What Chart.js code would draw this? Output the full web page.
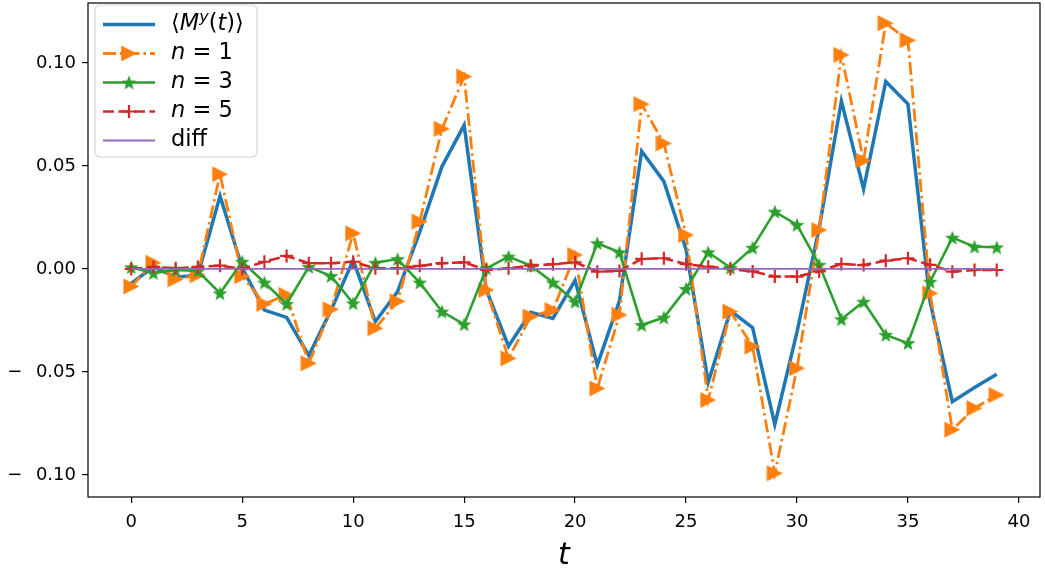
<!DOCTYPE html>
<html>
<head>
<meta charset="utf-8">
<script src="https://cdn.jsdelivr.net/npm/chart.js@4.4.0/dist/chart.umd.min.js"></script>
<style>
  html, body { margin: 0; padding: 0; background: #fff; }
  #wrap { width: 1045px; height: 579px; }
</style>
</head>
<body>
<div id="wrap"><canvas id="chart" width="1045" height="579"></canvas></div>
<script>
// time steps
const tValues = [0, 1, 2, 3, 4, 5, 6, 7, 8, 9, 10, 11, 12, 13, 14, 15, 16, 17, 18, 19,
  20, 21, 22, 23, 24, 25, 26, 27, 28, 29, 30, 31, 32, 33, 34, 35, 36, 37, 38, 39];

// <M^y(t)>
const myValues = [-0.007, 0.001, -0.004, -0.003, 0.0354, 0.0005, -0.020, -0.0235, -0.042, -0.020,
  0.0042, -0.0256, -0.011, 0.018, 0.0497, 0.0698, -0.0102, -0.0375, -0.021, -0.024,
  -0.0055, -0.0467, -0.0155, 0.0572, 0.0425, 0.0095, -0.055, -0.0203, -0.0285, -0.0755,
  -0.0305, 0.0198, 0.0815, 0.0388, 0.091, 0.080, -0.016, -0.0644, -0.0575, -0.0511];

// n = 1
const n1Values = [-0.0085, 0.003, -0.005, -0.003, 0.046, -0.0035, -0.017, -0.0126, -0.0458, -0.0196,
  0.0173, -0.0288, -0.0157, 0.023, 0.068, 0.0934, -0.0102, -0.0434, -0.0231, -0.020,
  0.0068, -0.058, -0.0223, 0.080, 0.061, 0.0165, -0.0636, -0.0207, -0.0377, -0.0992,
  -0.0482, 0.0189, 0.1039, 0.0526, 0.1193, 0.111, -0.0118, -0.078, -0.0676, -0.0612];

// n = 3
const n3Values = [0.0008, -0.002, -0.0005, -0.001, -0.0118, 0.0035, -0.0066, -0.017, 0.001, -0.0034,
  -0.0167, 0.003, 0.0048, -0.0066, -0.0207, -0.0269, 0.0003, 0.006, 0.0016, -0.0066,
  -0.0159, 0.0125, 0.0081, -0.0272, -0.0236, -0.0097, 0.0081, 0.0006, 0.0103, 0.0278,
  0.0214, 0.002, -0.0244, -0.0159, -0.032, -0.036, -0.0062, 0.0152, 0.0108, 0.0105];

// n = 5
const n5Values = [0.0, 0.001, 0.0003, 0.001, 0.0016, 0.0, 0.0035, 0.0063, 0.0028, 0.0028,
  0.0035, 0.0003, 0.0003, 0.0015, 0.0028, 0.0032, -0.0005, 0.0003, 0.0016, 0.0023,
  0.0032, -0.0013, -0.001, 0.0049, 0.0052, 0.0023, 0.0011, 0.0, -0.0012, -0.0037,
  -0.0037, -0.0012, 0.0024, 0.0019, 0.004, 0.0052, 0.002, -0.0013, -0.0005, -0.0005];

// diff
const diffValues = [0, 0, 0, 0, 0, 0, 0, 0, 0, 0, 0, 0, 0, 0, 0, 0, 0, 0, 0, 0,
  0, 0, 0, 0, 0, 0, 0, 0, 0, 0, 0, 0, 0, 0, 0, 0, 0, 0, 0, 0];

const xTicks = [0, 5, 10, 15, 20, 25, 30, 35, 40];
const yTicks = [-0.10, -0.05, 0.00, 0.05, 0.10];

const FONT = "'DejaVu Sans', sans-serif";

function toPoints(values) {
  return tValues.map((t, i) => ({ x: t, y: values[i] }));
}

// matplotlib-like markers drawn on small canvases
function makeTriangle(size, color) {
  const c = document.createElement("canvas");
  c.width = c.height = size;
  const g = c.getContext("2d");
  g.beginPath();
  g.moveTo(0.5, 0.5);
  g.lineTo(size - 0.5, size / 2);
  g.lineTo(0.5, size - 0.5);
  g.closePath();
  g.fillStyle = color;
  g.fill();
  return c;
}

function makeStar(size, color) {
  const c = document.createElement("canvas");
  c.width = c.height = size;
  const g = c.getContext("2d");
  const cx = size / 2, cy = size / 2 + 0.7;
  const R = size / 2 - 0.3, r = R * 0.42;
  g.beginPath();
  for (let i = 0; i < 10; i++) {
    const a = -Math.PI / 2 + (i * Math.PI) / 5;
    const rad = i % 2 ? r : R;
    g.lineTo(cx + rad * Math.cos(a), cy + rad * Math.sin(a));
  }
  g.closePath();
  g.fillStyle = color;
  g.fill();
  return c;
}

const triImg = makeTriangle(17, "#ff7f0e");
const starImg = makeStar(16, "#2ca02c");

const series = [
  { key: "my", data: myValues, color: "#1f77b4", width: 3.5, dash: [], marker: null },
  { key: "n1", data: n1Values, color: "#ff7f0e", width: 2.8, dash: [13, 4, 2.5, 4], marker: "tri" },
  { key: "n3", data: n3Values, color: "#2ca02c", width: 2.6, dash: [], marker: "star" },
  { key: "n5", data: n5Values, color: "#d62728", width: 2.6, dash: [11, 4.5], marker: "cross" },
  { key: "diff", data: diffValues, color: "#9467bd", width: 1.8, dash: [], marker: null },
];

function pointStyleFor(s) {
  if (s.marker === "tri") return triImg;
  if (s.marker === "star") return starImg;
  if (s.marker === "cross") return "cross";
  return "circle";
}

const datasets = series.map((s, i) => ({
  label: s.key,
  data: toPoints(s.data),
  borderColor: s.color,
  backgroundColor: s.color,
  borderWidth: s.width,
  borderDash: s.dash,
  tension: 0,
  fill: false,
  order: series.length - i,
  pointStyle: pointStyleFor(s),
  pointRadius: s.marker ? (s.marker === "cross" ? 6.5 : 8) : 0,
  pointBorderColor: s.color,
  pointBackgroundColor: s.color,
  pointBorderWidth: s.marker === "cross" ? 2.2 : 0,
  pointHoverRadius: 0,
}));

// legend text pieces: [text, italic, superscript]
const legendLabels = [
  [["\u27E8", false], ["M", true], ["y", true, true], ["(", false], ["t", true], [")\u27E9", false]],
  [["n", true], [" = 1", false]],
  [["n", true], [" = 3", false]],
  [["n", true], [" = 5", false]],
  [["diff", false]],
];

function drawLegendMarker(ctx, s, x, y) {
  if (s.marker === "tri") ctx.drawImage(triImg, x - triImg.width / 2, y - triImg.height / 2);
  else if (s.marker === "star") ctx.drawImage(starImg, x - starImg.width / 2, y - starImg.height / 2);
  else if (s.marker === "cross") {
    ctx.setLineDash([]);
    ctx.lineWidth = 2.2;
    ctx.strokeStyle = s.color;
    ctx.beginPath();
    ctx.moveTo(x - 6.5, y); ctx.lineTo(x + 6.5, y);
    ctx.moveTo(x, y - 6.5); ctx.lineTo(x, y + 6.5);
    ctx.stroke();
  }
}

const decorPlugin = {
  id: "decor",
  afterDraw(chart) {
    const ctx = chart.ctx;
    const area = chart.chartArea;
    ctx.save();

    // frame
    ctx.strokeStyle = "#000";
    ctx.lineWidth = 1.2;
    ctx.setLineDash([]);
    ctx.strokeRect(area.left, area.top, area.right - area.left, area.bottom - area.top);

    // axis label
    ctx.fillStyle = "#000";
    ctx.font = "italic 30px " + FONT;
    ctx.textAlign = "center";
    ctx.textBaseline = "middle";
    ctx.fillText("t", (area.left + area.right) / 2, 556);

    // legend box
    const bx = 95, by = 5, bw = 162, bh = 152, r = 5;
    ctx.beginPath();
    ctx.moveTo(bx + r, by);
    ctx.arcTo(bx + bw, by, bx + bw, by + bh, r);
    ctx.arcTo(bx + bw, by + bh, bx, by + bh, r);
    ctx.arcTo(bx, by + bh, bx, by, r);
    ctx.arcTo(bx, by, bx + bw, by, r);
    ctx.closePath();
    ctx.fillStyle = "rgba(255,255,255,0.8)";
    ctx.fill();
    ctx.strokeStyle = "#d6d6d6";
    ctx.lineWidth = 1.2;
    ctx.stroke();

    const rowY = [24.5, 53.5, 82.5, 111.5, 140.5];
    series.forEach((s, i) => {
      const y = rowY[i];
      ctx.strokeStyle = s.color;
      ctx.lineWidth = s.width;
      ctx.setLineDash(s.dash);
      ctx.beginPath();
      ctx.moveTo(103, y);
      ctx.lineTo(155, y);
      ctx.stroke();
      drawLegendMarker(ctx, s, 129, y);

      // label text
      let x = 171;
      ctx.fillStyle = "#000";
      ctx.textAlign = "left";
      ctx.textBaseline = "middle";
      legendLabels[i].forEach(([txt, italic, sup]) => {
        const size = sup ? 16 : 22.5;
        ctx.font = (italic ? "italic " : "") + size + "px " + FONT;
        ctx.fillText(txt, x, sup ? y - 7 : y);
        x += ctx.measureText(txt).width;
      });
    });

    ctx.restore();
  },
};

function fmtY(v) {
  const s = Math.abs(v).toFixed(2);
  return v < -1e-9 ? "\u2212\u2002\u2005" + s : s;
}

function noPad(s) {
  s.paddingLeft = 0;
  s.paddingRight = 0;
  s.paddingTop = 0;
  s.paddingBottom = 0;
}

new Chart(document.getElementById("chart"), {
  type: "line",
  data: { datasets: datasets },
  options: {
    responsive: false,
    animation: false,
    layout: { autoPadding: false, padding: { left: 0, right: 5, top: 3, bottom: 0 } },
    plugins: { legend: { display: false }, tooltip: { enabled: false } },
    scales: {
      x: {
        type: "linear",
        min: -1.95,
        max: 40.95,
        afterBuildTicks: (s) => { s.ticks = xTicks.map((v) => ({ value: v })); },
        afterFit: (s) => { s.height = 82; noPad(s); },
        grid: { display: true, drawOnChartArea: false, drawTicks: true, tickLength: 6, color: "#000", lineWidth: 1.2 },
        border: { display: false },
        ticks: { color: "#000", font: { family: FONT, size: 18 }, padding: 9, maxRotation: 0, autoSkip: false,
          callback: (v) => String(v) },
      },
      y: {
        type: "linear",
        min: -0.1107,
        max: 0.1291,
        afterBuildTicks: (s) => { s.ticks = yTicks.map((v) => ({ value: v })); },
        afterFit: (s) => { s.width = 88; noPad(s); },
        grid: { display: true, drawOnChartArea: false, drawTicks: true, tickLength: 6, color: "#000", lineWidth: 1.2 },
        border: { display: false },
        ticks: { color: "#000", font: { family: FONT, size: 18 }, padding: 6, autoSkip: false,
          callback: (v) => fmtY(v) },
      },
    },
  },
  plugins: [decorPlugin],
});
</script>
</body>
</html>
